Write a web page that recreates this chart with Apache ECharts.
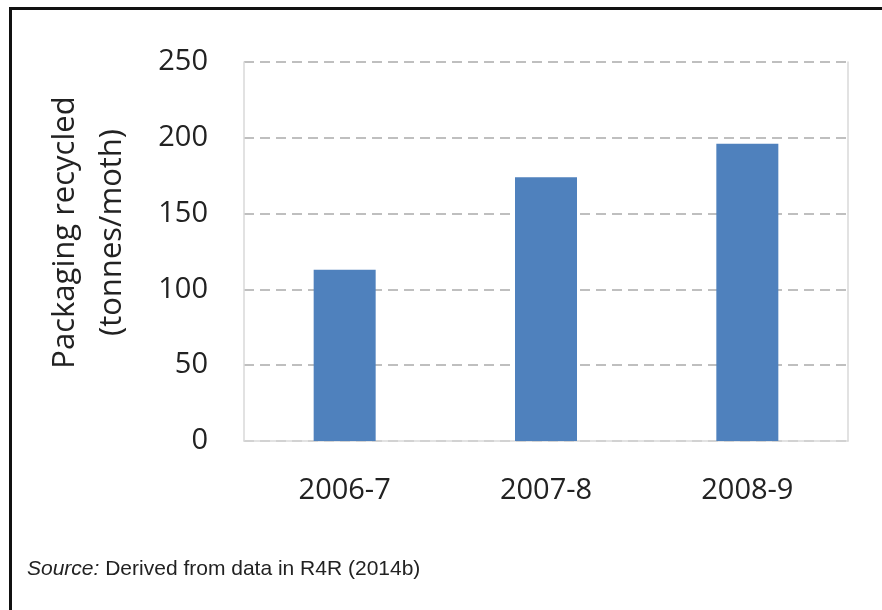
<!DOCTYPE html>
<html>
<head>
<meta charset="utf-8">
<script src="https://cdn.jsdelivr.net/npm/echarts@6/dist/echarts.min.js"></script>
<style>
html,body{margin:0;padding:0;background:#fff;}
#c{width:882px;height:610px;}
</style>
</head>
<body>
<div id="c"></div>
<script>
var categories = ['2006-7', '2007-8', '2008-9'];
var values = [113, 174, 196];
var yTicks = [0, 50, 100, 150, 200, 250];
var yName = 'Packaging recycled\n(tonnes/moth)';
var sourceLabel = 'Source:';
var sourceText = ' Derived from data in R4R (2014b)';

var chart = echarts.init(document.getElementById('c'), null, {renderer: 'canvas'});
var font = 'Open Sans';
chart.setOption({
  animation: false,
  backgroundColor: '#fff',
  grid: {left: 244, right: 34, top: 62, bottom: 169, containLabel: false},
  xAxis: {
    type: 'category',
    data: categories,
    axisLine: {show: true, lineStyle: {color: '#D9D9D9', width: 1.5}},
    axisTick: {show: false},
    axisLabel: {color: '#222', fontFamily: font, fontSize: 29, margin: 35}
  },
  yAxis: [{
    type: 'value',
    min: yTicks[0],
    max: yTicks[yTicks.length - 1],
    interval: 50,
    name: yName,
    nameLocation: 'middle',
    nameGap: 108,
    nameRotate: 90,
    nameTextStyle: {color: '#222', fontFamily: font, fontSize: 31, lineHeight: 47, padding: [0, 0, 0, 38]},
    axisLine: {show: true, lineStyle: {color: '#D9D9D9', width: 1.5}},
    axisTick: {show: false},
    axisLabel: {color: '#222', fontFamily: font, fontSize: 29, margin: 36},
    splitLine: {show: true, lineStyle: {color: '#BFBFBF', width: 2, type: [10, 6]}}
  }, {
    type: 'value',
    position: 'right',
    min: yTicks[0],
    max: yTicks[yTicks.length - 1],
    interval: 50,
    axisLine: {show: true, lineStyle: {color: '#D9D9D9', width: 1.5}},
    axisTick: {show: false},
    axisLabel: {show: false},
    splitLine: {show: false}
  }],
  series: [{
    type: 'bar',
    data: values,
    barWidth: 62,
    itemStyle: {color: '#4F81BD'}
  }],
  graphic: [
    {type: 'rect', shape: {x: 9, y: 7, width: 873, height: 3}, style: {fill: '#111'}},
    {type: 'rect', shape: {x: 9, y: 7, width: 3, height: 603}, style: {fill: '#111'}},
    {type: 'text', left: 27, top: 559, style: {
      text: '{i|' + sourceLabel + '}{n|' + sourceText + '}',
      rich: {
        i: {fontFamily: 'Liberation Sans', fontStyle: 'italic', fontSize: 21, fill: '#222'},
        n: {fontFamily: 'Liberation Sans', fontSize: 21, fill: '#222'}
      }
    }}
  ]
});
</script>
</body>
</html>
